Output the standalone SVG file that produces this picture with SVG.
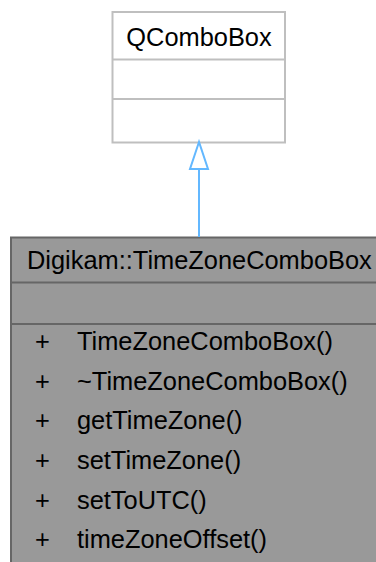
<svg xmlns="http://www.w3.org/2000/svg" width="376" height="562" viewBox="0 0 376 562">
<style>
  text { font-family: "Liberation Sans", Arial, sans-serif; font-size: 25.4px; fill: #000000; }
  .base rect, .base line { stroke: #bfbfbf; stroke-width: 2; }
  .cls rect, .cls line { stroke: #666666; stroke-width: 2; }
  .edge { stroke: #63b8ff; stroke-width: 2; fill: none; }
</style>
<rect x="0" y="0" width="376" height="562" fill="#ffffff"/>
<g id="node_QComboBox" class="base">
  <rect x="112.5" y="12" width="172.5" height="130.5" fill="#ffffff"/>
  <line x1="112.5" y1="59.5" x2="285" y2="59.5"/>
  <line x1="112.5" y1="99" x2="285" y2="99"/>
  <text x="199" y="46" text-anchor="middle">QComboBox</text>
</g>
<g id="node_TimeZoneComboBox" class="cls">
  <rect x="11" y="237.5" width="380" height="340" fill="#999999"/>
  <line x1="11" y1="282.5" x2="391" y2="282.5"/>
  <line x1="11" y1="324" x2="391" y2="324"/>
  <text x="27" y="269">Digikam::TimeZoneComboBox</text>
  <text x="35" y="350">+</text><text x="77" y="350">TimeZoneComboBox()</text>
  <text x="35" y="390">+</text><text x="77" y="390">~TimeZoneComboBox()</text>
  <text x="35" y="429">+</text><text x="77" y="429">getTimeZone()</text>
  <text x="35" y="469">+</text><text x="77" y="469">setTimeZone()</text>
  <text x="35" y="509">+</text><text x="77" y="509">setToUTC()</text>
  <text x="35" y="548">+</text><text x="77" y="548">timeZoneOffset()</text>
</g>
<g id="connectors">
  <line class="edge" x1="199" y1="237" x2="199" y2="169"/>
  <polygon class="edge" points="199,142 190,169 208,169" fill="#ffffff"/>
</g>
</svg>
